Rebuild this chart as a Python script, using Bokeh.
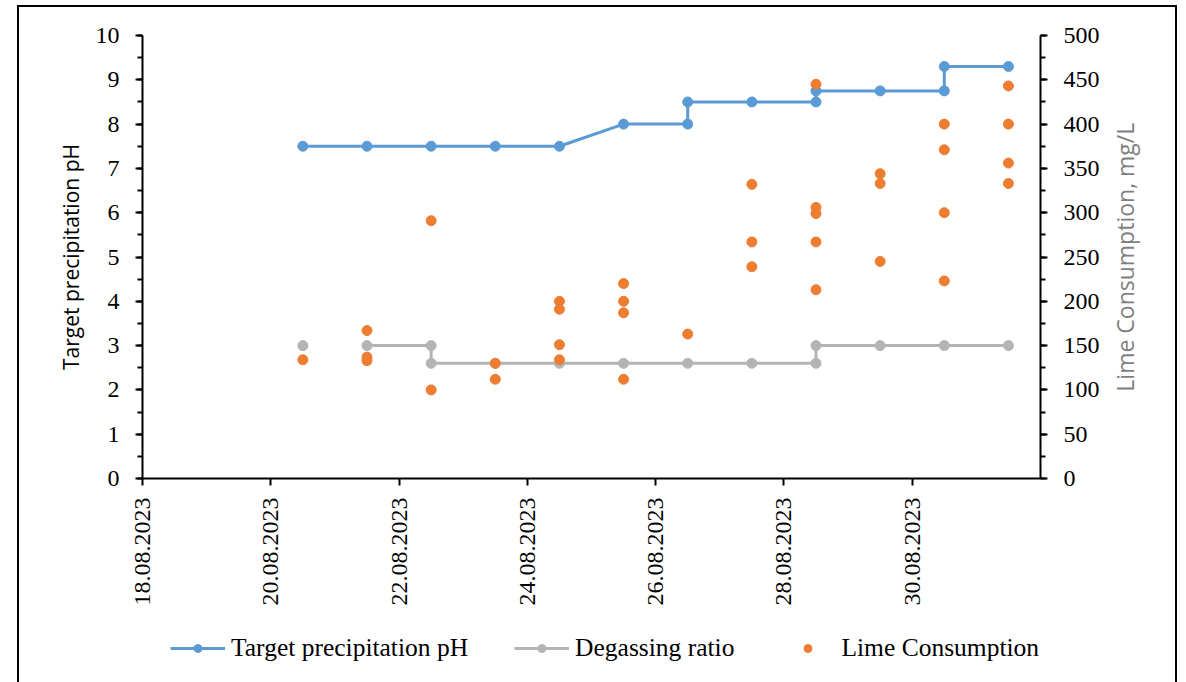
import math
import numpy as np
import pandas as pd
from bokeh.plotting import figure
from bokeh.layouts import column
from bokeh.models import (Range1d, LinearAxis, FixedTicker, DatetimeTickFormatter,
                          Legend, LegendItem, ColumnDataSource)
from bokeh.embed import file_html
from bokeh.resources import INLINE

# ---------------- data ----------------
tick_dates = ["18.08.2023", "20.08.2023", "22.08.2023", "24.08.2023",
              "26.08.2023", "28.08.2023", "30.08.2023"]

ph_dates = ["20.08.2023", "21.08.2023", "22.08.2023", "23.08.2023", "24.08.2023",
            "25.08.2023", "26.08.2023", "26.08.2023", "27.08.2023", "28.08.2023",
            "28.08.2023", "29.08.2023", "30.08.2023", "30.08.2023", "31.08.2023"]
ph_values = [7.5, 7.5, 7.5, 7.5, 7.5, 8.0, 8.0, 8.5, 8.5, 8.5, 8.75, 8.75, 8.75, 9.3, 9.3]

degas_dates = ["20.08.2023", "21.08.2023", "21.08.2023", "22.08.2023", "22.08.2023",
               "23.08.2023", "24.08.2023", "25.08.2023", "26.08.2023", "27.08.2023",
               "28.08.2023", "28.08.2023", "29.08.2023", "30.08.2023", "31.08.2023"]
degas_values = [3.0, np.nan, 3.0, 3.0, 2.6, 2.6, 2.6, 2.6, 2.6, 2.6, 2.6, 3.0, 3.0, 3.0, 3.0]

lime_dates = (["20.08.2023"] + ["21.08.2023"] * 3 + ["22.08.2023"] * 2 + ["23.08.2023"] * 2
              + ["24.08.2023"] * 4 + ["25.08.2023"] * 4 + ["26.08.2023"] + ["27.08.2023"] * 3
              + ["28.08.2023"] * 5 + ["29.08.2023"] * 3 + ["30.08.2023"] * 4 + ["31.08.2023"] * 4)
lime_values = [134,
               167, 137, 133,
               291, 100,
               130, 112,
               200, 191, 151, 134,
               220, 200, 187, 112,
               163,
               332, 267, 239,
               445, 306, 299, 267, 213,
               344, 333, 245,
               400, 371, 300, 223,
               443, 400, 356, 333]

# ---------------- styling ----------------
BLUE = "#5B9BD5"
GREY = "#B4B4B4"
ORANGE = "#ED7D31"
TICK_FONT = "Liberation Serif"
TITLE_FONT = "Open Sans"
RIGHT_TITLE = "Lime Consumption, mg/L"
RIGHT_TITLE_START = 98   # where the upward-reading right title starts (mg/L scale)


def day_center(dates):
    # Excel date axis, points placed between tick marks (middle of the day)
    return pd.to_datetime(dates, format="%d.%m.%Y") + pd.Timedelta(hours=12)


ph_src = ColumnDataSource(dict(x=day_center(ph_dates), y=ph_values))
degas_src = ColumnDataSource(dict(x=day_center(degas_dates), y=degas_values))
lime_src = ColumnDataSource(dict(x=day_center(lime_dates), y=lime_values))

x_rng = Range1d(pd.Timestamp("2023-08-18"), pd.Timestamp("2023-09-01"))

# container content starts at (19, 7) on the page
p = figure(width=1156, height=603, x_axis_type="datetime",
           output_backend="svg", toolbar_location=None,
           x_range=x_rng, y_range=Range1d(0, 10),
           min_border_left=123, min_border_right=135,
           min_border_top=28, min_border_bottom=132)
p.extra_y_ranges = {"lime": Range1d(0, 500)}
p.xgrid.visible = False
p.ygrid.visible = False
p.outline_line_color = None
p.background_fill_color = "white"
p.border_fill_color = "white"

# lines and markers
l1 = p.line("x", "y", source=ph_src, line_color=BLUE, line_width=3)
s1 = p.scatter("x", "y", source=ph_src, size=10, fill_color=BLUE, line_color=BLUE)
l2 = p.line("x", "y", source=degas_src, line_color=GREY, line_width=3)
s2 = p.scatter("x", "y", source=degas_src, size=10, fill_color=GREY, line_color=GREY)
s3 = p.scatter("x", "y", source=lime_src, size=10, fill_color=ORANGE, line_color=ORANGE,
               y_range_name="lime")

# x axis
xa = p.xaxis[0]
xa.ticker = FixedTicker(ticks=[pd.Timestamp(d).timestamp() * 1000 for d in
                               pd.to_datetime(tick_dates, format="%d.%m.%Y")])
fmt = "%d.%m.%Y"
xa.formatter = DatetimeTickFormatter(days=fmt, months=fmt, years=fmt, hours=fmt,
                                     hourmin=fmt, minutes=fmt, seconds=fmt,
                                     milliseconds=fmt, microseconds=fmt, minsec=fmt)
xa.major_label_orientation = math.pi / 2
xa.major_label_text_font = TICK_FONT
xa.major_label_text_font_size = "24px"
xa.major_label_text_color = "black"
xa.major_label_standoff = 12
xa.major_tick_out = 7
xa.major_tick_in = 0
xa.minor_tick_line_color = None
xa.axis_line_width = 2
xa.major_tick_line_width = 2
xa.axis_line_color = "black"

# left axis
ya = p.yaxis[0]
ya.ticker = FixedTicker(ticks=list(range(0, 11)),
                        minor_ticks=[v / 2 for v in range(0, 21)])
ya.axis_label = "Target precipitation pH"
ya.axis_label_text_font = TITLE_FONT
ya.axis_label_text_font_size = "21px"
ya.axis_label_text_font_style = "normal"
ya.axis_label_text_color = "black"
ya.axis_label_standoff = 8
ya.major_label_text_font = TICK_FONT
ya.major_label_text_font_size = "24px"
ya.major_label_text_color = "black"
ya.major_label_standoff = 16
ya.major_tick_out = 7
ya.major_tick_in = 0
ya.minor_tick_out = 5
ya.minor_tick_in = 0
ya.axis_line_width = 2
ya.major_tick_line_width = 2
ya.minor_tick_line_width = 2
ya.axis_line_color = "black"

# right axis (ticks and numbers)
ra = LinearAxis(y_range_name="lime",
                ticker=FixedTicker(ticks=list(range(0, 501, 50)),
                                   minor_ticks=list(range(0, 501, 25))))
ra.major_label_text_font = TICK_FONT
ra.major_label_text_font_size = "24px"
ra.major_label_text_color = "black"
ra.major_label_standoff = 16
ra.major_tick_out = 7
ra.major_tick_in = 0
ra.minor_tick_out = 5
ra.minor_tick_in = 0
ra.axis_line_width = 2
ra.major_tick_line_width = 2
ra.minor_tick_line_width = 2
ra.axis_line_color = "black"
p.add_layout(ra, "right")

# right axis title, reading upward (Excel style), drawn as a lone rotated label
ta = LinearAxis(y_range_name="lime", ticker=FixedTicker(ticks=[RIGHT_TITLE_START]),
                major_label_overrides={RIGHT_TITLE_START: RIGHT_TITLE})
ta.major_label_orientation = math.pi / 2
ta.major_label_text_font = TITLE_FONT
ta.major_label_text_font_size = "23px"
ta.major_label_text_color = "#7F7F7F"
ta.major_label_standoff = 23
ta.major_tick_out = 0
ta.major_tick_in = 0
ta.major_tick_line_color = None
ta.minor_tick_line_color = None
ta.axis_line_color = None
p.add_layout(ta, "right")

# legend strip below the chart (same series styles; its ranges show no marks)
q = figure(width=1156, height=72, x_axis_type="datetime",
           output_backend="svg", toolbar_location=None,
           min_border=0, x_range=x_rng, y_range=Range1d(-2, -1))
q.axis.visible = False
q.xgrid.visible = False
q.ygrid.visible = False
q.outline_line_color = None
g1 = q.line("x", "y", source=ph_src, line_color=BLUE, line_width=3)
h1 = q.scatter("x", "y", source=ph_src, size=10, fill_color=BLUE, line_color=BLUE)
g2 = q.line("x", "y", source=degas_src, line_color=GREY, line_width=3)
h2 = q.scatter("x", "y", source=degas_src, size=10, fill_color=GREY, line_color=GREY)
h3 = q.scatter("x", "y", source=lime_src, size=10, fill_color=ORANGE, line_color=ORANGE)

legend = Legend(items=[
    LegendItem(label="Target precipitation pH", renderers=[g1, h1]),
    LegendItem(label="Degassing ratio", renderers=[g2, h2]),
    LegendItem(label="Lime Consumption", renderers=[h3]),
], orientation="horizontal", location=(28, 19))
legend.label_text_font = TICK_FONT
legend.label_text_font_size = "25.5px"
legend.label_text_color = "black"
legend.glyph_width = 55
legend.glyph_height = 20
legend.label_standoff = 6
legend.spacing = 46
legend.padding = 2
legend.margin = 0
legend.border_line_color = None
legend.background_fill_alpha = 0
q.add_layout(legend, "center")

layout = column(p, q, spacing=0, margin=(5, 0, 0, 17),
                styles={"border-left": "2px solid black",
                        "border-right": "2px solid black",
                        "border-top": "2px solid black",
                        "background-color": "white"})

open("out.html", "w").write(file_html(layout, INLINE))
